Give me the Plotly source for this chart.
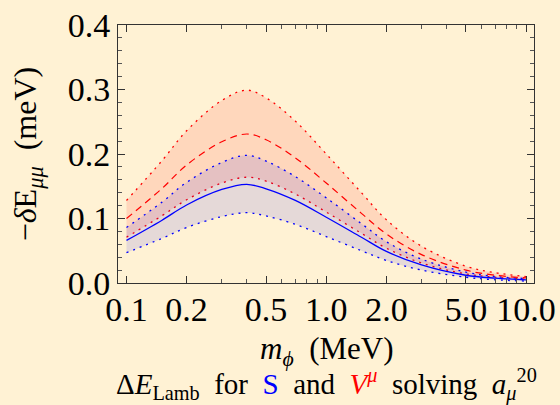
import plotly.graph_objects as go

# Data
m_phi = [0.1, 0.15, 0.2, 0.3, 0.4, 0.5, 0.7, 1.0, 1.5, 2.0, 3.0, 5.0, 7.0, 10.0]
s_central = [0.066, 0.097, 0.121, 0.145, 0.153, 0.146, 0.128, 0.102, 0.071, 0.049, 0.028, 0.012, 0.0075, 0.005]
s_upper = [0.086, 0.125, 0.156, 0.187, 0.198, 0.189, 0.165, 0.132, 0.092, 0.064, 0.037, 0.017, 0.010, 0.007]
s_lower = [0.047, 0.069, 0.086, 0.103, 0.109, 0.104, 0.091, 0.072, 0.050, 0.035, 0.020, 0.009, 0.005, 0.003]
v_central = [0.100, 0.146, 0.183, 0.219, 0.231, 0.222, 0.194, 0.155, 0.108, 0.076, 0.044, 0.020, 0.012, 0.008]
v_upper = [0.128, 0.189, 0.236, 0.283, 0.299, 0.287, 0.251, 0.200, 0.140, 0.098, 0.057, 0.026, 0.016, 0.010]
v_lower = [0.071, 0.104, 0.129, 0.155, 0.164, 0.158, 0.138, 0.110, 0.077, 0.054, 0.031, 0.014, 0.009, 0.006]

x_tickvals = [0.1, 0.2, 0.5, 1.0, 2.0, 5.0, 10.0]
x_ticktext = ["0.1", "0.2", "0.5", "1.0", "2.0", "5.0", "10.0"]
x_minor = [0.3, 0.4, 0.6, 0.7, 0.8, 0.9, 3, 4, 6, 7, 8, 9]
y_tickvals = [0.0, 0.1, 0.2, 0.3, 0.4]
y_ticktext = ["0.0", "0.1", "0.2", "0.3", "0.4"]

BG = "rgb(255,242,212)"
RED = "rgb(255,0,0)"
BLUE = "rgb(0,0,255)"
FONT = "Liberation Serif, Times New Roman, Times, serif"
SP = "\u2002"

fig = go.Figure()

def band(lower, upper, color, fillcolor):
    fig.add_trace(go.Scatter(x=m_phi, y=lower, mode="lines",
                             line=dict(color=color, width=1.3, dash="2px,5px", shape="spline"),
                             showlegend=False, hoverinfo="skip"))
    fig.add_trace(go.Scatter(x=m_phi, y=upper, mode="lines", fill="tonexty", fillcolor=fillcolor,
                             line=dict(color=color, width=1.3, dash="2px,5px", shape="spline"),
                             showlegend=False, hoverinfo="skip"))

band(v_lower, v_upper, RED, "rgba(255,0,0,0.11)")
band(s_lower, s_upper, BLUE, "rgba(0,0,255,0.10)")

fig.add_trace(go.Scatter(x=m_phi, y=v_central, mode="lines",
                         line=dict(color=RED, width=1.2, dash="7px,5px", shape="spline"),
                         showlegend=False))
fig.add_trace(go.Scatter(x=m_phi, y=s_central, mode="lines",
                         line=dict(color=BLUE, width=1.3, shape="spline"),
                         showlegend=False))

axis_common = dict(showline=True, linecolor="#333", linewidth=1, mirror="allticks",
                   ticks="inside", ticklen=7, tickwidth=1, tickcolor="#333",
                   showgrid=False, zeroline=False, automargin=False,
                   tickfont=dict(family=FONT, size=34, color="black"))

fig.update_xaxes(type="log", range=[-1.0425, 1.04],
                 tickmode="array", tickvals=x_tickvals, ticktext=x_ticktext,
                 ticklabelstandoff=-4,
                 minor=dict(tickvals=x_minor, ticks="inside", ticklen=4, tickcolor="#555", showgrid=False),
                 **axis_common)
fig.update_yaxes(range=[0, 0.4], tickmode="array", tickvals=y_tickvals, ticktext=y_ticktext,
                 minor=dict(dtick=0.02, tick0=0, ticks="inside", ticklen=4, tickcolor="#555", showgrid=False),
                 **axis_common)

# axis titles (placed as annotations for exact positioning)
fig.add_annotation(text="−<i>δ</i>E<sub><i>μμ</i></sub>" + SP + "(meV)", textangle=-90,
                   xref="paper", yref="paper", x=-0.218, y=0.5, xanchor="center", yanchor="middle",
                   showarrow=False, font=dict(family=FONT, size=32, color="black"))
fig.add_annotation(text="<i>m</i><sub><i>ϕ</i></sub>" + SP + "(MeV)",
                   xref="paper", yref="paper", x=0.5, y=-0.265, xanchor="center", yanchor="middle",
                   showarrow=False, font=dict(family=FONT, size=31, color="black"))

fig.add_annotation(
    text=("Δ<i>E</i><sub>Lamb</sub>" + SP + "for" + SP + "<span style='color:blue'>S</span>" + SP + "and" + SP +
          "<span style='color:red'><i>V</i><sup><i>μ</i></sup></span>" + SP + "solving" + SP +
          "<i>a</i><sub><i>μ</i></sub><sup>20</sup>"),
    xref="paper", yref="paper", x=0.5, y=-0.395, xanchor="center", yanchor="middle",
    showarrow=False, font=dict(family=FONT, size=29, color="black"))

fig.update_layout(width=560, height=405,
                  margin=dict(l=118, r=26, t=25, b=122),
                  paper_bgcolor=BG, plot_bgcolor=BG,
                  font=dict(family=FONT, color="black"))

fig.write_html("out.html", config={"displayModeBar": False},
               post_script="document.body.style.margin='0';document.body.style.background='rgb(255,242,212)';")
